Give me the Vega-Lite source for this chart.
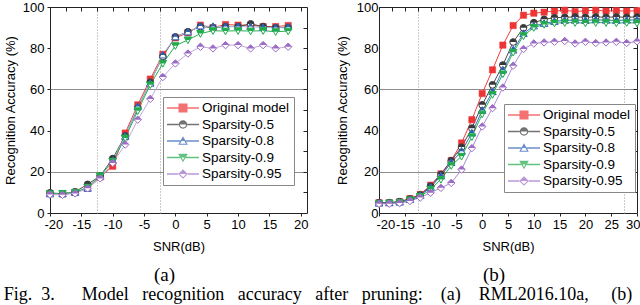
{
  "$schema": "https://vega.github.io/schema/vega-lite/v6.json",
  "padding": {"left": 3, "top": 0, "right": 0, "bottom": 0},
  "title": {"text": "Fig.\u00a0\u00a03.\u00a0\u00a0\u00a0\u00a0\u00a0\u00a0Model\u00a0\u00a0\u00a0recognition\u00a0\u00a0\u00a0accuracy\u00a0\u00a0\u00a0after\u00a0\u00a0\u00a0pruning:\u00a0\u00a0\u00a0\u00a0(a)\u00a0\u00a0\u00a0\u00a0RML2016.10a,\u00a0\u00a0\u00a0\u00a0\u00a0(b)", "orient": "bottom", "anchor": "start", "frame": "bounds", "font": "Liberation Serif", "fontSize": 18, "fontWeight": "normal", "color": "#000", "offset": 0},
  "spacing": 26,
  "resolve": {"scale": {"color": "independent", "shape": "independent", "stroke": "independent"}, "legend": {"color": "independent", "shape": "independent", "stroke": "independent"}},
  "datasets": {
    "a": [
      {"s":"Original model","x":-20,"y":9.5},{"s":"Original model","x":-18,"y":9.3},{"s":"Original model","x":-16,"y":10},{"s":"Original model","x":-14,"y":12},{"s":"Original model","x":-12,"y":17.5},{"s":"Original model","x":-10,"y":22.7},{"s":"Original model","x":-8,"y":38.8},{"s":"Original model","x":-6,"y":52.5},{"s":"Original model","x":-4,"y":65},{"s":"Original model","x":-2,"y":77},{"s":"Original model","x":0,"y":85},{"s":"Original model","x":2,"y":87.5},{"s":"Original model","x":4,"y":91.2},{"s":"Original model","x":6,"y":90},{"s":"Original model","x":8,"y":91.5},{"s":"Original model","x":10,"y":91.2},{"s":"Original model","x":12,"y":91.2},{"s":"Original model","x":14,"y":90.5},{"s":"Original model","x":16,"y":90.5},{"s":"Original model","x":18,"y":91},
      {"s":"Sparsity-0.5","x":-20,"y":9.8},{"s":"Sparsity-0.5","x":-18,"y":9.3},{"s":"Sparsity-0.5","x":-16,"y":10.3},{"s":"Sparsity-0.5","x":-14,"y":13.9},{"s":"Sparsity-0.5","x":-12,"y":18},{"s":"Sparsity-0.5","x":-10,"y":26.4},{"s":"Sparsity-0.5","x":-8,"y":37.5},{"s":"Sparsity-0.5","x":-6,"y":51},{"s":"Sparsity-0.5","x":-4,"y":63.5},{"s":"Sparsity-0.5","x":-2,"y":76},{"s":"Sparsity-0.5","x":0,"y":85.5},{"s":"Sparsity-0.5","x":2,"y":88},{"s":"Sparsity-0.5","x":4,"y":90.5},{"s":"Sparsity-0.5","x":6,"y":90},{"s":"Sparsity-0.5","x":8,"y":90.5},{"s":"Sparsity-0.5","x":10,"y":90.5},{"s":"Sparsity-0.5","x":12,"y":91.8},{"s":"Sparsity-0.5","x":14,"y":90.5},{"s":"Sparsity-0.5","x":16,"y":90},{"s":"Sparsity-0.5","x":18,"y":90},
      {"s":"Sparsity-0.8","x":-20,"y":9.3},{"s":"Sparsity-0.8","x":-18,"y":9.3},{"s":"Sparsity-0.8","x":-16,"y":10},{"s":"Sparsity-0.8","x":-14,"y":12},{"s":"Sparsity-0.8","x":-12,"y":17.8},{"s":"Sparsity-0.8","x":-10,"y":25.5},{"s":"Sparsity-0.8","x":-8,"y":37.2},{"s":"Sparsity-0.8","x":-6,"y":51.7},{"s":"Sparsity-0.8","x":-4,"y":63},{"s":"Sparsity-0.8","x":-2,"y":76.7},{"s":"Sparsity-0.8","x":0,"y":85.5},{"s":"Sparsity-0.8","x":2,"y":87.9},{"s":"Sparsity-0.8","x":4,"y":90.8},{"s":"Sparsity-0.8","x":6,"y":90.5},{"s":"Sparsity-0.8","x":8,"y":90.5},{"s":"Sparsity-0.8","x":10,"y":90.5},{"s":"Sparsity-0.8","x":12,"y":90.5},{"s":"Sparsity-0.8","x":14,"y":90},{"s":"Sparsity-0.8","x":16,"y":90},{"s":"Sparsity-0.8","x":18,"y":90.3},
      {"s":"Sparsity-0.9","x":-20,"y":9.3},{"s":"Sparsity-0.9","x":-18,"y":9.5},{"s":"Sparsity-0.9","x":-16,"y":10},{"s":"Sparsity-0.9","x":-14,"y":12.5},{"s":"Sparsity-0.9","x":-12,"y":18},{"s":"Sparsity-0.9","x":-10,"y":25.1},{"s":"Sparsity-0.9","x":-8,"y":36.4},{"s":"Sparsity-0.9","x":-6,"y":49.6},{"s":"Sparsity-0.9","x":-4,"y":62.2},{"s":"Sparsity-0.9","x":-2,"y":72.6},{"s":"Sparsity-0.9","x":0,"y":81.2},{"s":"Sparsity-0.9","x":2,"y":84},{"s":"Sparsity-0.9","x":4,"y":87.1},{"s":"Sparsity-0.9","x":6,"y":88.5},{"s":"Sparsity-0.9","x":8,"y":88.3},{"s":"Sparsity-0.9","x":10,"y":88.5},{"s":"Sparsity-0.9","x":12,"y":88.3},{"s":"Sparsity-0.9","x":14,"y":88.5},{"s":"Sparsity-0.9","x":16,"y":88},{"s":"Sparsity-0.9","x":18,"y":88.3},
      {"s":"Sparsity-0.95","x":-20,"y":9},{"s":"Sparsity-0.95","x":-18,"y":8.8},{"s":"Sparsity-0.95","x":-16,"y":9.5},{"s":"Sparsity-0.95","x":-14,"y":12},{"s":"Sparsity-0.95","x":-12,"y":16.8},{"s":"Sparsity-0.95","x":-10,"y":24.3},{"s":"Sparsity-0.95","x":-8,"y":33.2},{"s":"Sparsity-0.95","x":-6,"y":45.3},{"s":"Sparsity-0.95","x":-4,"y":55.4},{"s":"Sparsity-0.95","x":-2,"y":66},{"s":"Sparsity-0.95","x":0,"y":72.6},{"s":"Sparsity-0.95","x":2,"y":77.4},{"s":"Sparsity-0.95","x":4,"y":80.7},{"s":"Sparsity-0.95","x":6,"y":79.9},{"s":"Sparsity-0.95","x":8,"y":81.5},{"s":"Sparsity-0.95","x":10,"y":81.5},{"s":"Sparsity-0.95","x":12,"y":79.9},{"s":"Sparsity-0.95","x":14,"y":81.5},{"s":"Sparsity-0.95","x":16,"y":79.9},{"s":"Sparsity-0.95","x":18,"y":80.7}
    ],
    "b": [
      {"s":"Original model","x":-20,"y":5},{"s":"Original model","x":-18,"y":5},{"s":"Original model","x":-16,"y":5.5},{"s":"Original model","x":-14,"y":7},{"s":"Original model","x":-12,"y":9},{"s":"Original model","x":-10,"y":13.5},{"s":"Original model","x":-8,"y":19},{"s":"Original model","x":-6,"y":25.5},{"s":"Original model","x":-4,"y":34},{"s":"Original model","x":-2,"y":45.3},{"s":"Original model","x":0,"y":58},{"s":"Original model","x":2,"y":69.5},{"s":"Original model","x":4,"y":81.5},{"s":"Original model","x":6,"y":91},{"s":"Original model","x":8,"y":96},{"s":"Original model","x":10,"y":97},{"s":"Original model","x":12,"y":97.5},{"s":"Original model","x":14,"y":98},{"s":"Original model","x":16,"y":98.4},{"s":"Original model","x":18,"y":97.8},{"s":"Original model","x":20,"y":98.2},{"s":"Original model","x":22,"y":98.4},{"s":"Original model","x":24,"y":98},{"s":"Original model","x":26,"y":98.2},{"s":"Original model","x":28,"y":98},{"s":"Original model","x":30,"y":98.2},
      {"s":"Sparsity-0.5","x":-20,"y":5},{"s":"Sparsity-0.5","x":-18,"y":5},{"s":"Sparsity-0.5","x":-16,"y":5.5},{"s":"Sparsity-0.5","x":-14,"y":6.8},{"s":"Sparsity-0.5","x":-12,"y":8.8},{"s":"Sparsity-0.5","x":-10,"y":13},{"s":"Sparsity-0.5","x":-8,"y":18.7},{"s":"Sparsity-0.5","x":-6,"y":25.4},{"s":"Sparsity-0.5","x":-4,"y":32},{"s":"Sparsity-0.5","x":-2,"y":41.2},{"s":"Sparsity-0.5","x":0,"y":52.5},{"s":"Sparsity-0.5","x":2,"y":62.2},{"s":"Sparsity-0.5","x":4,"y":71.8},{"s":"Sparsity-0.5","x":6,"y":83},{"s":"Sparsity-0.5","x":8,"y":89.9},{"s":"Sparsity-0.5","x":10,"y":92.4},{"s":"Sparsity-0.5","x":12,"y":94},{"s":"Sparsity-0.5","x":14,"y":94.8},{"s":"Sparsity-0.5","x":16,"y":95},{"s":"Sparsity-0.5","x":18,"y":95.2},{"s":"Sparsity-0.5","x":20,"y":95},{"s":"Sparsity-0.5","x":22,"y":95.2},{"s":"Sparsity-0.5","x":24,"y":95},{"s":"Sparsity-0.5","x":26,"y":95.2},{"s":"Sparsity-0.5","x":28,"y":95},{"s":"Sparsity-0.5","x":30,"y":95.2},
      {"s":"Sparsity-0.8","x":-20,"y":4.8},{"s":"Sparsity-0.8","x":-18,"y":5},{"s":"Sparsity-0.8","x":-16,"y":5.3},{"s":"Sparsity-0.8","x":-14,"y":6.5},{"s":"Sparsity-0.8","x":-12,"y":8.5},{"s":"Sparsity-0.8","x":-10,"y":12.5},{"s":"Sparsity-0.8","x":-8,"y":18},{"s":"Sparsity-0.8","x":-6,"y":24.5},{"s":"Sparsity-0.8","x":-4,"y":30},{"s":"Sparsity-0.8","x":-2,"y":38.8},{"s":"Sparsity-0.8","x":0,"y":49.8},{"s":"Sparsity-0.8","x":2,"y":58.9},{"s":"Sparsity-0.8","x":4,"y":69.4},{"s":"Sparsity-0.8","x":6,"y":79.1},{"s":"Sparsity-0.8","x":8,"y":87.1},{"s":"Sparsity-0.8","x":10,"y":90.8},{"s":"Sparsity-0.8","x":12,"y":92},{"s":"Sparsity-0.8","x":14,"y":93},{"s":"Sparsity-0.8","x":16,"y":93.5},{"s":"Sparsity-0.8","x":18,"y":93.6},{"s":"Sparsity-0.8","x":20,"y":93.5},{"s":"Sparsity-0.8","x":22,"y":93.8},{"s":"Sparsity-0.8","x":24,"y":93.6},{"s":"Sparsity-0.8","x":26,"y":93.5},{"s":"Sparsity-0.8","x":28,"y":93.6},{"s":"Sparsity-0.8","x":30,"y":93.8},
      {"s":"Sparsity-0.9","x":-20,"y":4.5},{"s":"Sparsity-0.9","x":-18,"y":4.8},{"s":"Sparsity-0.9","x":-16,"y":5},{"s":"Sparsity-0.9","x":-14,"y":6.3},{"s":"Sparsity-0.9","x":-12,"y":8},{"s":"Sparsity-0.9","x":-10,"y":11.5},{"s":"Sparsity-0.9","x":-8,"y":16.3},{"s":"Sparsity-0.9","x":-6,"y":23},{"s":"Sparsity-0.9","x":-4,"y":27.5},{"s":"Sparsity-0.9","x":-2,"y":37},{"s":"Sparsity-0.9","x":0,"y":48},{"s":"Sparsity-0.9","x":2,"y":57.5},{"s":"Sparsity-0.9","x":4,"y":67.5},{"s":"Sparsity-0.9","x":6,"y":78},{"s":"Sparsity-0.9","x":8,"y":86},{"s":"Sparsity-0.9","x":10,"y":90},{"s":"Sparsity-0.9","x":12,"y":91.5},{"s":"Sparsity-0.9","x":14,"y":92.2},{"s":"Sparsity-0.9","x":16,"y":92.4},{"s":"Sparsity-0.9","x":18,"y":92.4},{"s":"Sparsity-0.9","x":20,"y":92.2},{"s":"Sparsity-0.9","x":22,"y":92.4},{"s":"Sparsity-0.9","x":24,"y":92.4},{"s":"Sparsity-0.9","x":26,"y":92.2},{"s":"Sparsity-0.9","x":28,"y":92.4},{"s":"Sparsity-0.9","x":30,"y":92.2},
      {"s":"Sparsity-0.95","x":-20,"y":4.5},{"s":"Sparsity-0.95","x":-18,"y":4.5},{"s":"Sparsity-0.95","x":-16,"y":4.8},{"s":"Sparsity-0.95","x":-14,"y":5.8},{"s":"Sparsity-0.95","x":-12,"y":7.5},{"s":"Sparsity-0.95","x":-10,"y":9.8},{"s":"Sparsity-0.95","x":-8,"y":12.2},{"s":"Sparsity-0.95","x":-6,"y":14.6},{"s":"Sparsity-0.95","x":-4,"y":21.1},{"s":"Sparsity-0.95","x":-2,"y":31.5},{"s":"Sparsity-0.95","x":0,"y":42},{"s":"Sparsity-0.95","x":2,"y":50.9},{"s":"Sparsity-0.95","x":4,"y":60.9},{"s":"Sparsity-0.95","x":6,"y":71.5},{"s":"Sparsity-0.95","x":8,"y":79.6},{"s":"Sparsity-0.95","x":10,"y":82.3},{"s":"Sparsity-0.95","x":12,"y":82.8},{"s":"Sparsity-0.95","x":14,"y":83.1},{"s":"Sparsity-0.95","x":16,"y":83.5},{"s":"Sparsity-0.95","x":18,"y":82.3},{"s":"Sparsity-0.95","x":20,"y":83.1},{"s":"Sparsity-0.95","x":22,"y":82.5},{"s":"Sparsity-0.95","x":24,"y":82.8},{"s":"Sparsity-0.95","x":26,"y":83.1},{"s":"Sparsity-0.95","x":28,"y":82.5},{"s":"Sparsity-0.95","x":30,"y":83.3}
    ]
  },
  "hconcat": [
    {
      "width": 257, "height": 206,
      "data": {"name": "a"},
      "title": {"text": "(a)", "orient": "bottom", "anchor": "middle", "frame": "group", "dx": -14, "offset": 13, "font": "Liberation Serif", "fontSize": 19, "fontWeight": "normal", "color": "#000"},
      "layer": [
        {"mark": {"type": "line", "strokeWidth": 1},
         "encoding": {
           "x": {"field": "x", "type": "quantitative", "scale": {"domain": [-20, 21], "nice": false, "zero": false}, "axis": {"orient": "bottom", "values": [-20,-15,-10,-5,0,5,10,15,20], "labelExpr": "'' + datum.value", "labelOverlap": false, "labelFlush": true, "labelFlushOffset": 6, "title": "SNR(dB)", "tickSize": 3, "labelPadding": 2, "titlePadding": 9, "grid": false}},
           "y": {"field": "y", "type": "quantitative", "scale": {"domain": [0, 100], "nice": false}, "axis": {"orient": "left", "values": [0,20,40,60,80,100], "title": "Recognition Accuracy (%)", "tickSize": 3, "labelPadding": 3, "titlePadding": 5, "grid": false}},
           "stroke": {"field": "s", "type": "nominal", "scale": {"range": ["#f03c3c","#4a4a4a","#a8bfe6","#27b355","#c2a6de"]}, "legend": null}
         }},
        {"transform": [{"filter": "datum.s == 'Original model'"}],
         "mark": {"type": "point", "shape": "square", "filled": true, "fill": "#ee3535", "stroke": "#ee3535", "strokeWidth": 0.5, "size": 40, "opacity": 1},
         "encoding": {"x": {"field": "x", "type": "quantitative", "scale": {"domain": [-20, 21], "nice": false, "zero": false}, "axis": null}, "y": {"field": "y", "type": "quantitative", "scale": {"domain": [0, 100], "nice": false}, "axis": null}}},
        {"transform": [{"filter": "datum.s == 'Sparsity-0.5'"}],
         "mark": {"type": "point", "shape": "circle", "filled": true, "fill": "white", "stroke": "#383838", "strokeWidth": 1, "size": 45, "opacity": 1},
         "encoding": {"x": {"field": "x", "type": "quantitative", "scale": {"domain": [-20, 21], "nice": false, "zero": false}, "axis": null}, "y": {"field": "y", "type": "quantitative", "scale": {"domain": [0, 100], "nice": false}, "axis": null}}},
        {"transform": [{"filter": "datum.s == 'Sparsity-0.5'"}],
         "mark": {"type": "point", "shape": "M-1,0A1,1 0 0,1 1,0Z", "filled": true, "fill": "#383838", "strokeWidth": 0, "size": 45, "opacity": 1},
         "encoding": {"x": {"field": "x", "type": "quantitative", "scale": {"domain": [-20, 21], "nice": false, "zero": false}, "axis": null}, "y": {"field": "y", "type": "quantitative", "scale": {"domain": [0, 100], "nice": false}, "axis": null}}},
        {"transform": [{"filter": "datum.s == 'Sparsity-0.8'"}],
         "mark": {"type": "point", "shape": "M0,-1L1,0.8L-1,0.8Z", "filled": true, "fill": "white", "stroke": "#2c5db3", "strokeWidth": 1, "size": 55, "opacity": 1},
         "encoding": {"x": {"field": "x", "type": "quantitative", "scale": {"domain": [-20, 21], "nice": false, "zero": false}, "axis": null}, "y": {"field": "y", "type": "quantitative", "scale": {"domain": [0, 100], "nice": false}, "axis": null}}},
        {"transform": [{"filter": "datum.s == 'Sparsity-0.8'"}],
         "mark": {"type": "point", "shape": "M0,-1L0.556,0L-0.556,0Z", "filled": true, "fill": "#2c5db3", "strokeWidth": 0, "size": 55, "opacity": 1},
         "encoding": {"x": {"field": "x", "type": "quantitative", "scale": {"domain": [-20, 21], "nice": false, "zero": false}, "axis": null}, "y": {"field": "y", "type": "quantitative", "scale": {"domain": [0, 100], "nice": false}, "axis": null}}},
        {"transform": [{"filter": "datum.s == 'Sparsity-0.9'"}],
         "mark": {"type": "point", "shape": "M-1,-0.8L1,-0.8L0,1Z", "filled": true, "fill": "white", "stroke": "#1faa4c", "strokeWidth": 1, "size": 55, "opacity": 1},
         "encoding": {"x": {"field": "x", "type": "quantitative", "scale": {"domain": [-20, 21], "nice": false, "zero": false}, "axis": null}, "y": {"field": "y", "type": "quantitative", "scale": {"domain": [0, 100], "nice": false}, "axis": null}}},
        {"transform": [{"filter": "datum.s == 'Sparsity-0.9'"}],
         "mark": {"type": "point", "shape": "M-1,-0.8L1,-0.8L0.556,0L-0.556,0Z", "filled": true, "fill": "#1faa4c", "strokeWidth": 0, "size": 55, "opacity": 1},
         "encoding": {"x": {"field": "x", "type": "quantitative", "scale": {"domain": [-20, 21], "nice": false, "zero": false}, "axis": null}, "y": {"field": "y", "type": "quantitative", "scale": {"domain": [0, 100], "nice": false}, "axis": null}}},
        {"transform": [{"filter": "datum.s == 'Sparsity-0.95'"}],
         "mark": {"type": "point", "shape": "M0,-1L1,0L0,1L-1,0Z", "filled": true, "fill": "white", "stroke": "#9b6bc5", "strokeWidth": 1, "size": 55, "opacity": 1},
         "encoding": {"x": {"field": "x", "type": "quantitative", "scale": {"domain": [-20, 21], "nice": false, "zero": false}, "axis": null}, "y": {"field": "y", "type": "quantitative", "scale": {"domain": [0, 100], "nice": false}, "axis": null}}},
        {"transform": [{"filter": "datum.s == 'Sparsity-0.95'"}],
         "mark": {"type": "point", "shape": "M0,-1L1,0L-1,0Z", "filled": true, "fill": "#9b6bc5", "strokeWidth": 0, "size": 55, "opacity": 1},
         "encoding": {"x": {"field": "x", "type": "quantitative", "scale": {"domain": [-20, 21], "nice": false, "zero": false}, "axis": null}, "y": {"field": "y", "type": "quantitative", "scale": {"domain": [0, 100], "nice": false}, "axis": null}}},
        {"transform": [{"filter": "false"}],
         "mark": {"type": "point", "filled": true},
         "encoding": {
           "x": {"field": "x", "type": "quantitative", "scale": {"domain": [-20, 21], "nice": false, "zero": false}, "axis": {"orient": "top", "values": [-20,-17.5,-15,-12.5,-10,-7.5,-5,-2.5,0,2.5,5,7.5,10,12.5,15,17.5,20], "labels": false, "title": null, "tickSize": -4, "grid": true, "gridDash": [1, 2], "gridColor": "#999", "gridOpacity": {"condition": {"test": "datum.value == -12.5 || datum.value == -2.5", "value": 1}, "value": 0}}},
           "y": {"field": "y", "type": "quantitative", "scale": {"domain": [0, 100], "nice": false}, "axis": {"orient": "right", "values": [10,20,30,40,50,60,70,80,90], "labels": false, "title": null, "tickSize": -4, "grid": true, "gridColor": "#8c8c8c", "gridOpacity": {"condition": {"test": "datum.value == 20 || datum.value == 60", "value": 1}, "value": 0}}},
           "color": {"field": "s", "type": "nominal", "scale": {"domain": ["Original model","Sparsity-0.5","Sparsity-0.8","Sparsity-0.9","Sparsity-0.95"], "range": ["#ee3535","#383838","#2c5db3","#1faa4c","#9b6bc5"]},
             "legend": {"orient": "none", "legendX": 113, "legendY": 90, "title": null, "fillColor": "white", "strokeColor": "#888", "padding": 4, "symbolSize": 196, "symbolStrokeWidth": 0, "labelFont": "Liberation Sans", "labelFontSize": 13.5, "labelColor": "#000", "labelOffset": 21, "rowPadding": 2.5}},
           "shape": {"field": "s", "type": "nominal", "scale": {"domain": ["Original model","Sparsity-0.5","Sparsity-0.8","Sparsity-0.9","Sparsity-0.95"], "range": [
             "M-1,-0.09L0.643,-0.09L0.643,0.09L-1,0.09Z M1.929,-0.09L3.571,-0.09L3.571,0.09L1.929,0.09Z M0.643,-0.643L1.929,-0.643L1.929,0.643L0.643,0.643Z",
             "M-1,-0.09L0.686,-0.09L0.686,0.09L-1,0.09Z M1.886,-0.09L3.571,-0.09L3.571,0.09L1.886,0.09Z M0.686,0A0.6,0.6 0 0,1 1.886,0Z M1.886,0A0.6,0.6 0 0,1 0.686,0L0.846,0A0.44,0.44 0 0,0 1.726,0Z",
             "M-1,-0.09L0.9,-0.09L0.9,0.09L-1,0.09Z M1.672,-0.09L3.571,-0.09L3.571,0.09L1.672,0.09Z M1.286,-0.686L1.668,0L0.904,0Z M0.904,0L1.668,0L1.972,0.549L0.6,0.549Z M1.087,0L0.872,0.389L1.7,0.389L1.485,0Z",
             "M-1,-0.09L0.9,-0.09L0.9,0.09L-1,0.09Z M1.672,-0.09L3.571,-0.09L3.571,0.09L1.672,0.09Z M0.6,-0.549L1.972,-0.549L1.668,0L0.904,0Z M0.904,0L1.668,0L1.286,0.686Z M1.087,0L1.286,0.366L1.485,0Z",
             "M-1,-0.09L0.6,-0.09L0.6,0.09L-1,0.09Z M1.972,-0.09L3.571,-0.09L3.571,0.09L1.972,0.09Z M1.286,-0.686L1.972,0L0.6,0Z M0.6,0L1.972,0L1.286,0.686Z M0.829,0L1.286,0.457L1.743,0Z"
           ]}}
         }}
      ]
    },
    {
      "width": 258, "height": 206,
      "data": {"name": "b"},
      "title": {"text": "(b)", "orient": "bottom", "anchor": "middle", "frame": "group", "dx": -14, "offset": 13, "font": "Liberation Serif", "fontSize": 19, "fontWeight": "normal", "color": "#000"},
      "layer": [
        {"mark": {"type": "line", "strokeWidth": 1},
         "encoding": {
           "x": {"field": "x", "type": "quantitative", "scale": {"domain": [-20, 30], "nice": false, "zero": false}, "axis": {"orient": "bottom", "values": [-20,-15,-10,-5,0,5,10,15,20,25,30], "labelExpr": "'' + datum.value", "labelOverlap": false, "labelFlushOffset": 3, "title": "SNR(dB)", "tickSize": 3, "labelPadding": 2, "titlePadding": 9, "grid": false}},
           "y": {"field": "y", "type": "quantitative", "scale": {"domain": [0, 100], "nice": false}, "axis": {"orient": "left", "values": [0,20,40,60,80,100], "title": "Recognition Accuracy (%)", "ticks": false, "labelPadding": 1, "titlePadding": 7, "grid": false}},
           "stroke": {"field": "s", "type": "nominal", "scale": {"range": ["#f03c3c","#4a4a4a","#3d6cc0","#27b355","#ab8cd4"]}, "legend": null}
         }},
        {"transform": [{"filter": "datum.s == 'Original model'"}],
         "mark": {"type": "point", "shape": "square", "filled": true, "fill": "#ee3535", "stroke": "#ee3535", "strokeWidth": 0.5, "size": 40, "opacity": 1},
         "encoding": {"x": {"field": "x", "type": "quantitative", "scale": {"domain": [-20, 30], "nice": false, "zero": false}, "axis": null}, "y": {"field": "y", "type": "quantitative", "scale": {"domain": [0, 100], "nice": false}, "axis": null}}},
        {"transform": [{"filter": "datum.s == 'Sparsity-0.5'"}],
         "mark": {"type": "point", "shape": "circle", "filled": true, "fill": "white", "stroke": "#383838", "strokeWidth": 1, "size": 45, "opacity": 1},
         "encoding": {"x": {"field": "x", "type": "quantitative", "scale": {"domain": [-20, 30], "nice": false, "zero": false}, "axis": null}, "y": {"field": "y", "type": "quantitative", "scale": {"domain": [0, 100], "nice": false}, "axis": null}}},
        {"transform": [{"filter": "datum.s == 'Sparsity-0.5'"}],
         "mark": {"type": "point", "shape": "M-1,0A1,1 0 0,1 1,0Z", "filled": true, "fill": "#383838", "strokeWidth": 0, "size": 45, "opacity": 1},
         "encoding": {"x": {"field": "x", "type": "quantitative", "scale": {"domain": [-20, 30], "nice": false, "zero": false}, "axis": null}, "y": {"field": "y", "type": "quantitative", "scale": {"domain": [0, 100], "nice": false}, "axis": null}}},
        {"transform": [{"filter": "datum.s == 'Sparsity-0.8'"}],
         "mark": {"type": "point", "shape": "M0,-1L1,0.8L-1,0.8Z", "filled": true, "fill": "white", "stroke": "#2c5db3", "strokeWidth": 1, "size": 55, "opacity": 1},
         "encoding": {"x": {"field": "x", "type": "quantitative", "scale": {"domain": [-20, 30], "nice": false, "zero": false}, "axis": null}, "y": {"field": "y", "type": "quantitative", "scale": {"domain": [0, 100], "nice": false}, "axis": null}}},
        {"transform": [{"filter": "datum.s == 'Sparsity-0.8'"}],
         "mark": {"type": "point", "shape": "M0,-1L0.556,0L-0.556,0Z", "filled": true, "fill": "#2c5db3", "strokeWidth": 0, "size": 55, "opacity": 1},
         "encoding": {"x": {"field": "x", "type": "quantitative", "scale": {"domain": [-20, 30], "nice": false, "zero": false}, "axis": null}, "y": {"field": "y", "type": "quantitative", "scale": {"domain": [0, 100], "nice": false}, "axis": null}}},
        {"transform": [{"filter": "datum.s == 'Sparsity-0.9'"}],
         "mark": {"type": "point", "shape": "M-1,-0.8L1,-0.8L0,1Z", "filled": true, "fill": "white", "stroke": "#1faa4c", "strokeWidth": 1, "size": 55, "opacity": 1},
         "encoding": {"x": {"field": "x", "type": "quantitative", "scale": {"domain": [-20, 30], "nice": false, "zero": false}, "axis": null}, "y": {"field": "y", "type": "quantitative", "scale": {"domain": [0, 100], "nice": false}, "axis": null}}},
        {"transform": [{"filter": "datum.s == 'Sparsity-0.9'"}],
         "mark": {"type": "point", "shape": "M-1,-0.8L1,-0.8L0.556,0L-0.556,0Z", "filled": true, "fill": "#1faa4c", "strokeWidth": 0, "size": 55, "opacity": 1},
         "encoding": {"x": {"field": "x", "type": "quantitative", "scale": {"domain": [-20, 30], "nice": false, "zero": false}, "axis": null}, "y": {"field": "y", "type": "quantitative", "scale": {"domain": [0, 100], "nice": false}, "axis": null}}},
        {"transform": [{"filter": "datum.s == 'Sparsity-0.95'"}],
         "mark": {"type": "point", "shape": "M0,-1L1,0L0,1L-1,0Z", "filled": true, "fill": "white", "stroke": "#9b6bc5", "strokeWidth": 1, "size": 55, "opacity": 1},
         "encoding": {"x": {"field": "x", "type": "quantitative", "scale": {"domain": [-20, 30], "nice": false, "zero": false}, "axis": null}, "y": {"field": "y", "type": "quantitative", "scale": {"domain": [0, 100], "nice": false}, "axis": null}}},
        {"transform": [{"filter": "datum.s == 'Sparsity-0.95'"}],
         "mark": {"type": "point", "shape": "M0,-1L1,0L-1,0Z", "filled": true, "fill": "#9b6bc5", "strokeWidth": 0, "size": 55, "opacity": 1},
         "encoding": {"x": {"field": "x", "type": "quantitative", "scale": {"domain": [-20, 30], "nice": false, "zero": false}, "axis": null}, "y": {"field": "y", "type": "quantitative", "scale": {"domain": [0, 100], "nice": false}, "axis": null}}},
        {"transform": [{"filter": "false"}],
         "mark": {"type": "point", "filled": true},
         "encoding": {
           "x": {"field": "x", "type": "quantitative", "scale": {"domain": [-20, 30], "nice": false, "zero": false}, "axis": {"orient": "top", "values": [-20,-17.5,-15,-12.5,-10,-7.5,-5,-2.5,0,2.5,5,7.5,10,12.5,15,17.5,20,22.5,25,27.5,30], "labels": false, "title": null, "tickSize": -4, "grid": true, "gridDash": [1, 2], "gridColor": "#999", "gridOpacity": {"condition": {"test": "datum.value == -12.5 || datum.value == 27.5", "value": 1}, "value": 0}}},
           "y": {"field": "y", "type": "quantitative", "scale": {"domain": [0, 100], "nice": false}, "axis": {"orient": "right", "values": [10,20,30,40,50,60,70,80,90], "labels": false, "title": null, "tickSize": -4, "grid": true, "gridColor": "#8c8c8c", "gridOpacity": {"condition": {"test": "datum.value == 20 || datum.value == 60", "value": 1}, "value": 0}}},
           "color": {"field": "s", "type": "nominal", "scale": {"domain": ["Original model","Sparsity-0.5","Sparsity-0.8","Sparsity-0.9","Sparsity-0.95"], "range": ["#ee3535","#383838","#2c5db3","#1faa4c","#9b6bc5"]},
             "legend": {"orient": "none", "legendX": 125, "legendY": 97, "title": null, "fillColor": "white", "strokeColor": "#888", "padding": 4, "symbolSize": 196, "symbolStrokeWidth": 0, "labelFont": "Liberation Sans", "labelFontSize": 13.5, "labelColor": "#000", "labelOffset": 21, "rowPadding": 2.5}},
           "shape": {"field": "s", "type": "nominal", "scale": {"domain": ["Original model","Sparsity-0.5","Sparsity-0.8","Sparsity-0.9","Sparsity-0.95"], "range": [
             "M-1,-0.09L0.643,-0.09L0.643,0.09L-1,0.09Z M1.929,-0.09L3.571,-0.09L3.571,0.09L1.929,0.09Z M0.643,-0.643L1.929,-0.643L1.929,0.643L0.643,0.643Z",
             "M-1,-0.09L0.686,-0.09L0.686,0.09L-1,0.09Z M1.886,-0.09L3.571,-0.09L3.571,0.09L1.886,0.09Z M0.686,0A0.6,0.6 0 0,1 1.886,0Z M1.886,0A0.6,0.6 0 0,1 0.686,0L0.846,0A0.44,0.44 0 0,0 1.726,0Z",
             "M-1,-0.09L0.9,-0.09L0.9,0.09L-1,0.09Z M1.672,-0.09L3.571,-0.09L3.571,0.09L1.672,0.09Z M1.286,-0.686L1.668,0L0.904,0Z M0.904,0L1.668,0L1.972,0.549L0.6,0.549Z M1.087,0L0.872,0.389L1.7,0.389L1.485,0Z",
             "M-1,-0.09L0.9,-0.09L0.9,0.09L-1,0.09Z M1.672,-0.09L3.571,-0.09L3.571,0.09L1.672,0.09Z M0.6,-0.549L1.972,-0.549L1.668,0L0.904,0Z M0.904,0L1.668,0L1.286,0.686Z M1.087,0L1.286,0.366L1.485,0Z",
             "M-1,-0.09L0.6,-0.09L0.6,0.09L-1,0.09Z M1.972,-0.09L3.571,-0.09L3.571,0.09L1.972,0.09Z M1.286,-0.686L1.972,0L0.6,0Z M0.6,0L1.972,0L1.286,0.686Z M0.829,0L1.286,0.457L1.743,0Z"
           ]}}
         }}
      ]
    }
  ],
  "config": {
    "view": {"stroke": "#222", "strokeWidth": 1},
    "font": "Liberation Sans",
    "axis": {"labelFont": "Liberation Sans", "titleFont": "Liberation Sans", "labelFontSize": 13, "titleFontSize": 13, "titleFontWeight": "normal", "labelColor": "#000", "titleColor": "#000", "tickColor": "#222", "domain": false}
  }
}
